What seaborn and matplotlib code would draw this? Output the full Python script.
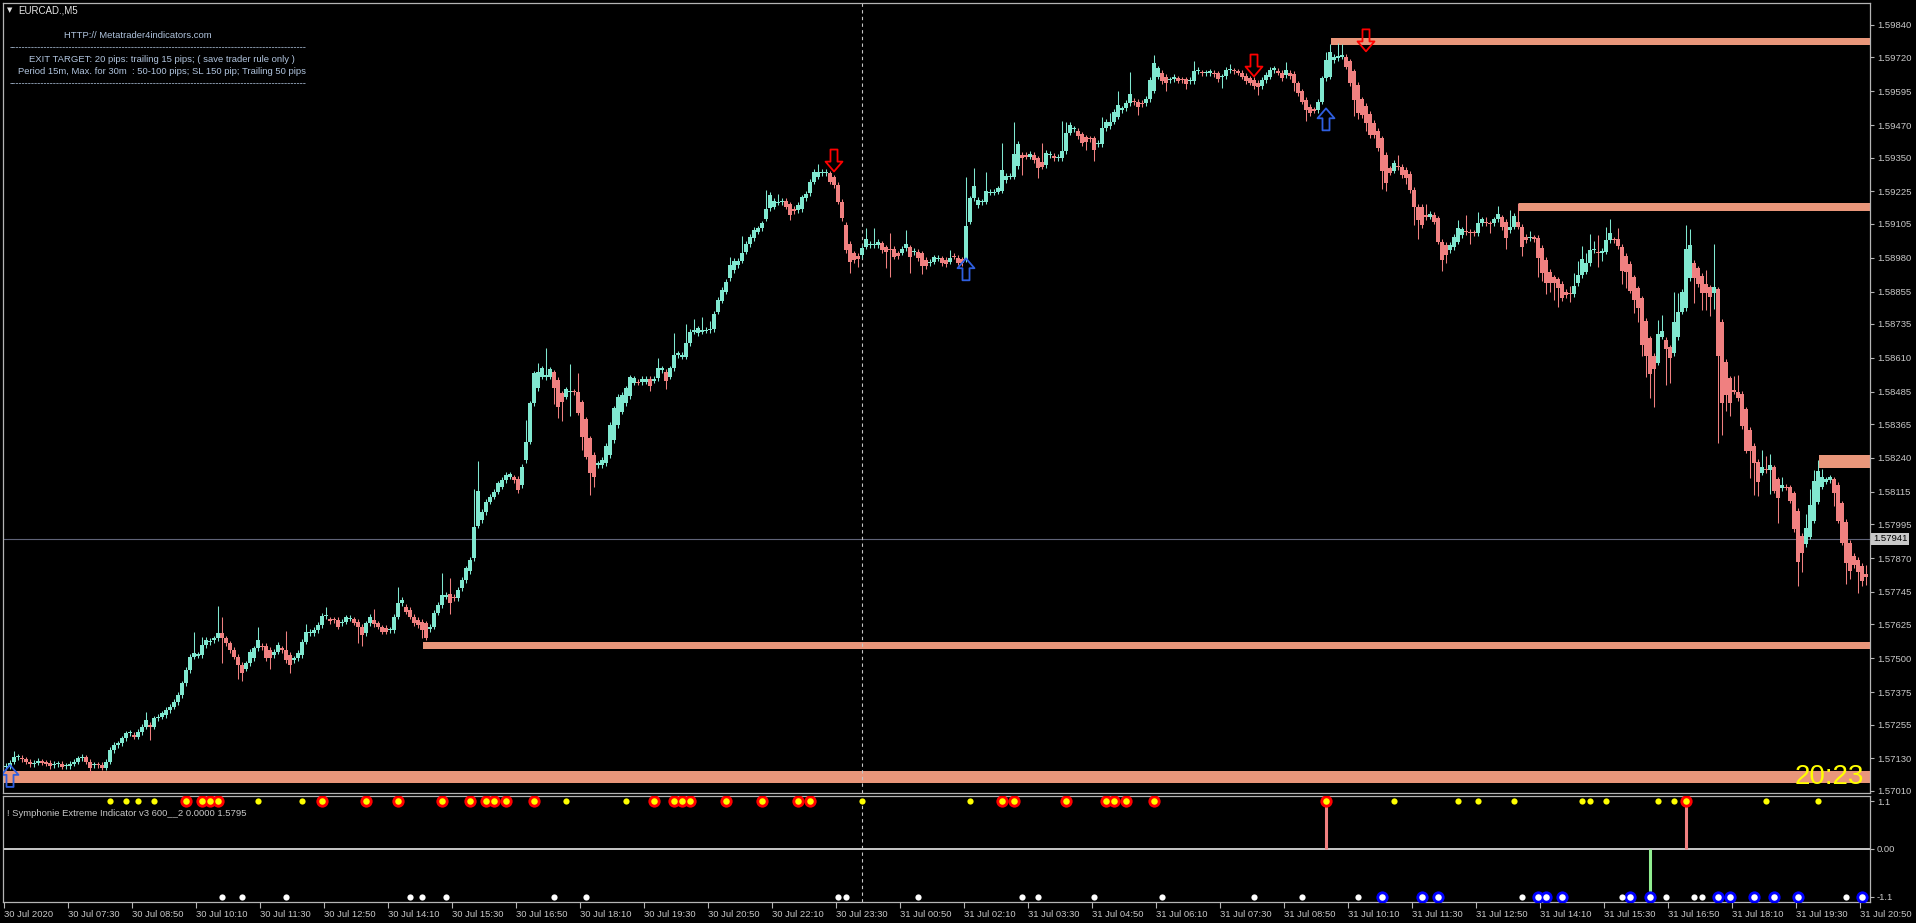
import matplotlib
matplotlib.use("Agg")
import matplotlib.pyplot as plt
import numpy as np
import pandas as pd
import seaborn as sns
from matplotlib.path import Path
from matplotlib.transforms import blended_transform_factory

# ---------------- data ----------------
symbol_title = "EURCAD.,M5"
indicator_title = "! Symphonie Extreme Indicator v3 600__2 0.0000 1.5795"
info_lines = ["HTTP:// Metatrader4indicators.com",
              "EXIT TARGET: 20 pips: trailing 15 pips; ( save trader rule only )",
              "Period 15m, Max. for 30m  : 50-100 pips; SL 150 pip; Trailing 50 pips"]
countdown = "20:23"
current_price = 1.57941

# Heiken-Ashi style candles (M5), bars 0..118
opens_1 = [1.57097, 1.57099, 1.57118, 1.57134, 1.57132, 1.57126, 1.57118, 1.57109, 1.57114, 1.57119,
           1.57115, 1.57114, 1.57104, 1.57108, 1.57109, 1.57101, 1.57102, 1.57111, 1.57118, 1.57130,
           1.57134, 1.57118, 1.57104, 1.57106, 1.57105, 1.57096, 1.57118, 1.57161, 1.57179, 1.57185,
           1.57204, 1.57222, 1.57216, 1.57210, 1.57228, 1.57247, 1.57253, 1.57247, 1.57278, 1.57284,
           1.57290, 1.57308, 1.57321, 1.57339, 1.57364, 1.57407, 1.57456, 1.57506, 1.57509, 1.57512,
           1.57549, 1.57560, 1.57567, 1.57573, 1.57592, 1.57573, 1.57555, 1.57530, 1.57506, 1.57475,
           1.57462, 1.57481, 1.57499, 1.57536, 1.57547, 1.57545, 1.57530, 1.57512, 1.57524, 1.57536,
           1.57530, 1.57512, 1.57493, 1.57499, 1.57512, 1.57561, 1.57592, 1.57592, 1.57604, 1.57623,
           1.57656, 1.57644, 1.57642, 1.57641, 1.57629, 1.57635, 1.57646, 1.57644, 1.57635, 1.57617,
           1.57592, 1.57629, 1.57641, 1.57629, 1.57614, 1.57611, 1.57603, 1.57604, 1.57654, 1.57703,
           1.57690, 1.57678, 1.57654, 1.57641, 1.57635, 1.57629, 1.57607, 1.57617, 1.57668, 1.57697,
           1.57727, 1.57736, 1.57727, 1.57721, 1.57758, 1.57789, 1.57823, 1.57870, 1.57990]
closes_1 = [1.57102, 1.57114, 1.57136, 1.57137, 1.57127, 1.57118, 1.57109, 1.57114, 1.57121, 1.57114,
            1.57111, 1.57102, 1.57109, 1.57110, 1.57099, 1.57103, 1.57111, 1.57118, 1.57130, 1.57136,
            1.57118, 1.57095, 1.57106, 1.57104, 1.57096, 1.57118, 1.57161, 1.57179, 1.57185, 1.57204,
            1.57222, 1.57225, 1.57210, 1.57228, 1.57247, 1.57271, 1.57247, 1.57278, 1.57284, 1.57296,
            1.57308, 1.57321, 1.57339, 1.57364, 1.57407, 1.57456, 1.57506, 1.57518, 1.57514, 1.57549,
            1.57567, 1.57564, 1.57573, 1.57592, 1.57573, 1.57555, 1.57530, 1.57506, 1.57475, 1.57444,
            1.57481, 1.57524, 1.57536, 1.57567, 1.57542, 1.57499, 1.57499, 1.57524, 1.57549, 1.57530,
            1.57493, 1.57475, 1.57499, 1.57520, 1.57561, 1.57598, 1.57598, 1.57604, 1.57623, 1.57656,
            1.57660, 1.57637, 1.57640, 1.57617, 1.57635, 1.57651, 1.57649, 1.57631, 1.57617, 1.57586,
            1.57629, 1.57654, 1.57626, 1.57617, 1.57598, 1.57598, 1.57605, 1.57654, 1.57703, 1.57715,
            1.57672, 1.57654, 1.57629, 1.57623, 1.57604, 1.57576, 1.57617, 1.57668, 1.57697, 1.57734,
            1.57734, 1.57703, 1.57721, 1.57752, 1.57789, 1.57832, 1.57863, 1.57986, 1.58118]

# bars 119..236
opens_2 = [1.58011, 1.58041, 1.58078, 1.58097, 1.58115, 1.58134, 1.58158, 1.58171, 1.58168, 1.58164,
           1.58140, 1.58232, 1.58300, 1.58442, 1.58497, 1.58540, 1.58538, 1.58540, 1.58556, 1.58528,
           1.58479, 1.58466, 1.58484, 1.58486, 1.58485, 1.58445, 1.58383, 1.58312, 1.58251, 1.58214,
           1.58214, 1.58222, 1.58251, 1.58306, 1.58362, 1.58411, 1.58442, 1.58469, 1.58518, 1.58521,
           1.58519, 1.58522, 1.58532, 1.58526, 1.58534, 1.58565, 1.58559, 1.58540, 1.58571, 1.58620,
           1.58614, 1.58614, 1.58663, 1.58707, 1.58700, 1.58707, 1.58710, 1.58713, 1.58715, 1.58781,
           1.58821, 1.58854, 1.58904, 1.58935, 1.58953, 1.58969, 1.59002, 1.59031, 1.59052, 1.59076,
           1.59088, 1.59124, 1.59162, 1.59169, 1.59183, 1.59185, 1.59190, 1.59177, 1.59160, 1.59156,
           1.59160, 1.59199, 1.59218, 1.59261, 1.59279, 1.59292, 1.59292, 1.59292, 1.59277, 1.59249,
           1.59187, 1.59101, 1.59031, 1.58996, 1.58986, 1.58990, 1.59021, 1.59027, 1.59027, 1.59027,
           1.59033, 1.59018, 1.59010, 1.59012, 1.58996, 1.58999, 1.59015, 1.59018, 1.59001, 1.59002,
           1.58996, 1.58972, 1.58959, 1.58965, 1.58976, 1.58978, 1.58972, 1.58965]
closes_2 = [1.58041, 1.58078, 1.58097, 1.58115, 1.58146, 1.58158, 1.58177, 1.58179, 1.58158, 1.58121,
            1.58208, 1.58300, 1.58442, 1.58553, 1.58559, 1.58571, 1.58546, 1.58567, 1.58500, 1.58429,
            1.58448, 1.58493, 1.58486, 1.58484, 1.58407, 1.58319, 1.58245, 1.58183, 1.58171, 1.58220,
            1.58232, 1.58284, 1.58362, 1.58423, 1.58467, 1.58473, 1.58497, 1.58538, 1.58534, 1.58518,
            1.58532, 1.58532, 1.58506, 1.58532, 1.58571, 1.58571, 1.58526, 1.58571, 1.58620, 1.58626,
            1.58620, 1.58666, 1.58707, 1.58713, 1.58719, 1.58710, 1.58713, 1.58715, 1.58772, 1.58824,
            1.58861, 1.58891, 1.58953, 1.58968, 1.58968, 1.58999, 1.59031, 1.59058, 1.59082, 1.59088,
            1.59107, 1.59160, 1.59212, 1.59191, 1.59187, 1.59190, 1.59169, 1.59138, 1.59153, 1.59175,
            1.59203, 1.59215, 1.59261, 1.59296, 1.59296, 1.59296, 1.59296, 1.59261, 1.59249, 1.59187,
            1.59125, 1.59008, 1.58965, 1.58972, 1.58976, 1.59015, 1.59048, 1.59031, 1.59031, 1.59039,
            1.59008, 1.59002, 1.59007, 1.58984, 1.58986, 1.59013, 1.59031, 1.58984, 1.59004, 1.58978,
            1.58949, 1.58949, 1.58965, 1.58981, 1.58979, 1.58959, 1.58957, 1.58978]

# bars 237..352
opens_3 = [1.58986, 1.58980, 1.58974, 1.58974, 1.59113, 1.59199, 1.59175, 1.59185, 1.59187, 1.59220,
           1.59220, 1.59224, 1.59228, 1.59267, 1.59279, 1.59279, 1.59319, 1.59360, 1.59360, 1.59353,
           1.59360, 1.59347, 1.59335, 1.59323, 1.59360, 1.59356, 1.59347, 1.59347, 1.59374, 1.59442,
           1.59454, 1.59448, 1.59436, 1.59425, 1.59421, 1.59421, 1.59400, 1.59400, 1.59458, 1.59467,
           1.59483, 1.59501, 1.59526, 1.59532, 1.59551, 1.59560, 1.59557, 1.59551, 1.59551, 1.59567,
           1.59597, 1.59649, 1.59664, 1.59649, 1.59637, 1.59639, 1.59643, 1.59638, 1.59639, 1.59633,
           1.59631, 1.59668, 1.59664, 1.59663, 1.59661, 1.59664, 1.59661, 1.59648, 1.59652, 1.59674,
           1.59670, 1.59668, 1.59664, 1.59652, 1.59643, 1.59637, 1.59627, 1.59615, 1.59637, 1.59649,
           1.59674, 1.59671, 1.59664, 1.59655, 1.59664, 1.59658, 1.59624, 1.59594, 1.59563, 1.59536,
           1.59528, 1.59526, 1.59557, 1.59643, 1.59649, 1.59711, 1.59717, 1.59723, 1.59723, 1.59705,
           1.59668, 1.59618, 1.59565, 1.59541, 1.59511, 1.59477, 1.59448, 1.59421, 1.59360, 1.59310,
           1.59302, 1.59319, 1.59316, 1.59304, 1.59289, 1.59230]
closes_3 = [1.58984, 1.58962, 1.58959, 1.59097, 1.59199, 1.59243, 1.59193, 1.59187, 1.59228, 1.59224,
            1.59224, 1.59236, 1.59304, 1.59282, 1.59282, 1.59362, 1.59400, 1.59347, 1.59353, 1.59363,
            1.59341, 1.59313, 1.59316, 1.59366, 1.59363, 1.59347, 1.59353, 1.59374, 1.59442, 1.59470,
            1.59458, 1.59430, 1.59403, 1.59409, 1.59419, 1.59376, 1.59403, 1.59458, 1.59483, 1.59483,
            1.59520, 1.59544, 1.59532, 1.59551, 1.59585, 1.59554, 1.59538, 1.59548, 1.59567, 1.59637,
            1.59698, 1.59680, 1.59631, 1.59624, 1.59639, 1.59647, 1.59634, 1.59636, 1.59622, 1.59636,
            1.59668, 1.59674, 1.59661, 1.59665, 1.59668, 1.59659, 1.59639, 1.59650, 1.59674, 1.59676,
            1.59668, 1.59664, 1.59649, 1.59631, 1.59627, 1.59615, 1.59610, 1.59637, 1.59655, 1.59674,
            1.59680, 1.59664, 1.59643, 1.59674, 1.59652, 1.59624, 1.59587, 1.59557, 1.59526, 1.59514,
            1.59523, 1.59557, 1.59643, 1.59711, 1.59741, 1.59723, 1.59725, 1.59729, 1.59686, 1.59624,
            1.59563, 1.59514, 1.59507, 1.59477, 1.59433, 1.59433, 1.59384, 1.59302, 1.59257, 1.59294,
            1.59331, 1.59314, 1.59286, 1.59273, 1.59230, 1.59169]

# bars 353..465
opens_4 = [1.59169, 1.59169, 1.59138, 1.59132, 1.59138, 1.59125, 1.59039, 1.59027, 1.59008, 1.59018,
           1.59039, 1.59064, 1.59076, 1.59076, 1.59073, 1.59070, 1.59107, 1.59111, 1.59106, 1.59107,
           1.59122, 1.59129, 1.59113, 1.59082, 1.59095, 1.59111, 1.59095, 1.59058, 1.59052, 1.59055,
           1.59052, 1.59015, 1.58972, 1.58928, 1.58907, 1.58900, 1.58882, 1.58854, 1.58847, 1.58846,
           1.58885, 1.58916, 1.58928, 1.58959, 1.59008, 1.59002, 1.58996, 1.59002, 1.59045, 1.59048,
           1.59048, 1.59021, 1.58986, 1.58957, 1.58907, 1.58867, 1.58830, 1.58746, 1.58682, 1.58617,
           1.58592, 1.58688, 1.58676, 1.58649, 1.58627, 1.58686, 1.58781, 1.58793, 1.58904, 1.58962,
           1.58941, 1.58912, 1.58883, 1.58870, 1.58851, 1.58863, 1.58744, 1.58596, 1.58534, 1.58491,
           1.58485, 1.58476, 1.58420, 1.58343, 1.58284, 1.58226, 1.58186, 1.58197, 1.58195, 1.58205,
           1.58161, 1.58128, 1.58132, 1.58131, 1.58109, 1.58044, 1.57951, 1.57921, 1.57949, 1.58008,
           1.58078, 1.58134, 1.58152, 1.58158, 1.58161, 1.58140, 1.58072, 1.58004, 1.57927, 1.57878,
           1.57863, 1.57841, 1.57813]
closes_4 = [1.59119, 1.59101, 1.59129, 1.59142, 1.59113, 1.59039, 1.58972, 1.58990, 1.59027, 1.59058,
            1.59089, 1.59085, 1.59074, 1.59070, 1.59071, 1.59107, 1.59122, 1.59108, 1.59103, 1.59122,
            1.59142, 1.59092, 1.59052, 1.59095, 1.59134, 1.59095, 1.59018, 1.59045, 1.59058, 1.59048,
            1.58978, 1.58922, 1.58885, 1.58885, 1.58885, 1.58867, 1.58830, 1.58842, 1.58845, 1.58875,
            1.58916, 1.58974, 1.58959, 1.59008, 1.59011, 1.58996, 1.59005, 1.59045, 1.59073, 1.59045,
            1.59023, 1.58932, 1.58928, 1.58858, 1.58824, 1.58793, 1.58657, 1.58618, 1.58550, 1.58567,
            1.58698, 1.58710, 1.58641, 1.58608, 1.58744, 1.58781, 1.58854, 1.59011, 1.59027, 1.58904,
            1.58883, 1.58848, 1.58848, 1.58836, 1.58870, 1.58617, 1.58444, 1.58473, 1.58444, 1.58485,
            1.58460, 1.58358, 1.58267, 1.58267, 1.58222, 1.58150, 1.58208, 1.58194, 1.58214, 1.58119,
            1.58091, 1.58140, 1.58130, 1.58082, 1.57976, 1.57857, 1.57887, 1.57983, 1.58066, 1.58155,
            1.58193, 1.58168, 1.58161, 1.58168, 1.58112, 1.58008, 1.57927, 1.57853, 1.57823, 1.57844,
            1.57820, 1.57786, 1.57801]

# wick lengths beyond the body, in pips
wick_up_pips = [1,1,2,1,1,1,1,1,1,1,1,1,1,1,1,1,1,1,1,1,
                1,1,1,1,1,1,1,1,1,1,1,1,1,1,1,3,1,1,1,1,
                1,1,1,1,1,1,1,8,1,3,1,1,1,10,6,1,1,1,1,1,
                1,1,1,5,1,1,1,1,1,1,7,1,1,1,1,3,1,1,1,1,
                3,1,1,1,1,1,1,1,1,1,1,1,4,1,1,1,1,1,6,1,
                1,1,1,1,1,1,1,1,1,8,1,6,1,1,1,1,1,14,11,1,
                1,1,1,1,1,1,1,1,1,1,8,1,1,3,1,10,1,1,1,1,
                1,10,1,7,1,1,1,1,1,1,1,1,1,1,1,1,1,1,1,1,
                1,1,1,4,1,1,1,8,1,1,7,1,4,1,5,1,3,1,1,1,
                1,3,1,1,6,1,1,1,1,1,7,1,1,3,1,1,1,1,1,1,
                1,1,1,3,1,1,1,1,1,1,1,1,1,1,1,4,1,6,1,1,
                1,6,1,1,1,5,1,1,1,1,1,1,1,1,1,1,3,1,1,1,
                18,1,7,1,1,7,1,1,1,10,1,1,12,1,1,1,1,1,1,7,
                1,1,1,1,11,4,1,1,1,1,1,1,1,1,4,1,3,1,5,1,
                1,8,1,1,1,1,1,3,1,1,1,1,1,1,1,1,1,4,1,1,
                1,1,1,1,1,1,2,1,1,1,1,1,1,1,1,1,1,1,1,1,
                3,1,1,1,1,1,1,1,1,1,3,3,1,5,4,1,1,1,1,1,
                1,1,1,1,1,1,1,1,4,1,1,1,1,1,1,4,1,1,1,1,
                1,1,1,3,1,6,1,1,4,1,2,1,1,3,1,1,6,1,7,1,
                1,2,1,1,1,1,1,1,1,1,1,3,5,5,5,4,6,3,6,1,
                5,5,1,4,1,1,1,1,1,1,1,1,1,5,6,1,1,11,7,1,
                9,6,1,1,1,5,1,16,1,1,1,1,5,6,1,1,1,1,1,6,
                5,4,1,1,3,1,1,1,1,1,5,6,4,4,3,1,1,1,1,1,
                1,1,1,1,1,3]
wick_dn_pips = [1,1,1,1,1,1,1,1,1,1,1,1,1,1,1,1,1,1,1,1,
                1,2,1,1,1,1,1,1,1,1,1,1,1,1,1,1,5,1,1,1,
                1,1,1,1,1,1,1,1,1,1,1,1,1,1,9,1,1,1,5,3,
                1,1,1,1,1,1,4,1,1,1,1,3,1,1,1,1,1,1,1,1,
                1,1,1,1,1,1,1,1,6,4,1,1,1,1,1,1,1,1,1,1,
                1,1,1,1,3,1,1,1,1,1,1,4,1,1,1,1,1,1,1,1,
                1,1,1,1,1,1,1,1,1,1,1,1,1,1,1,1,1,6,4,7,
                1,9,1,1,5,1,8,4,1,1,1,1,1,1,1,1,1,1,1,1,
                1,2,1,1,1,3,1,1,1,1,1,1,1,1,1,1,1,1,1,1,
                1,1,1,1,1,1,1,1,1,1,1,1,1,1,1,1,2,1,1,1,
                1,1,1,1,1,1,1,1,1,1,1,4,1,3,1,1,1,1,1,1,
                6,10,1,1,1,1,6,1,1,3,1,1,1,1,1,1,1,1,1,1,
                1,1,1,1,1,1,1,1,1,1,1,1,1,1,6,1,1,1,4,1,
                1,1,1,1,1,1,1,1,1,1,3,1,4,1,1,1,1,1,1,1,
                1,1,1,3,1,1,1,1,1,1,3,1,1,1,1,2,1,1,1,1,
                1,1,1,1,4,1,1,1,1,1,1,1,1,3,1,1,1,1,1,1,
                1,1,3,1,1,4,1,1,1,1,1,1,1,1,1,1,1,6,2,1,
                3,1,1,1,7,3,1,1,1,1,2,1,7,7,1,1,1,1,1,4,
                3,1,1,1,1,1,4,1,1,1,1,3,1,1,1,4,1,1,1,3,
                1,1,1,7,3,4,3,6,7,1,1,3,1,1,1,1,1,1,5,3,
                1,1,1,1,5,6,1,5,5,4,8,9,14,1,1,13,9,1,1,1,
                1,1,9,1,6,6,7,6,32,12,6,5,1,1,1,1,10,12,5,1,
                1,9,1,9,1,1,1,1,9,7,1,1,1,1,1,1,1,5,1,1,
                8,3,1,8,2,3]

# support / resistance zones
zone_start_bars = [0, 105, 332, 379, 454]
zone_low = [1.57040, 1.57533, 1.59764, 1.59154, 1.58204]
zone_high = [1.57084, 1.57560, 1.59791, 1.59181, 1.58250]

# signal arrows
up_arrow_bars = [1, 240, 330]
up_arrow_prices = [1.57065, 1.58937, 1.59491]
down_arrow_bars = [207, 312, 340]
down_arrow_prices = [1.59339, 1.59690, 1.59783]

separator_bar = 214

# axis labels
price_ticks = [1.59840, 1.59720, 1.59595, 1.59470, 1.59350, 1.59225, 1.59105, 1.58980,
               1.58855, 1.58735, 1.58610, 1.58485, 1.58365, 1.58240, 1.58115, 1.57995,
               1.57870, 1.57745, 1.57625, 1.57500, 1.57375, 1.57255, 1.57130, 1.57010]
time_label_bars = [0, 16, 32, 48, 64, 80, 96, 112, 128, 144, 160, 176, 192, 208, 224,
                   240, 256, 272, 288, 304, 320, 336, 352, 368, 384, 400, 416, 432, 448, 464]
time_labels = ["30 Jul 2020", "30 Jul 07:30", "30 Jul 08:50", "30 Jul 10:10", "30 Jul 11:30",
               "30 Jul 12:50", "30 Jul 14:10", "30 Jul 15:30", "30 Jul 16:50", "30 Jul 18:10",
               "30 Jul 19:30", "30 Jul 20:50", "30 Jul 22:10", "30 Jul 23:30", "31 Jul 00:50",
               "31 Jul 02:10", "31 Jul 03:30", "31 Jul 04:50", "31 Jul 06:10", "31 Jul 07:30",
               "31 Jul 08:50", "31 Jul 10:10", "31 Jul 11:30", "31 Jul 12:50", "31 Jul 14:10",
               "31 Jul 15:30", "31 Jul 16:50", "31 Jul 18:10", "31 Jul 19:30", "31 Jul 20:50"]

# indicator sub-window
ind_yellow_bars = [26, 30, 33, 37, 63, 74, 140, 155, 214, 241, 347, 363, 368, 377, 394, 396,
                   400, 413, 417, 440, 453]
ind_red_bars = [45, 49, 51, 53, 79, 90, 98, 109, 116, 120, 122, 125, 132, 162, 167, 169, 171,
                180, 189, 198, 201, 249, 252, 265, 275, 277, 280, 287, 330, 420]
ind_white_bars = [54, 59, 70, 101, 104, 110, 137, 145, 208, 210, 228, 254, 258, 272, 289, 312,
                  324, 338, 379, 404, 415, 422, 424, 460]
ind_blue_bars = [344, 354, 358, 383, 385, 389, 406, 411, 428, 431, 437, 442, 448, 464]
ind_sell_stem_bars = [330, 420]
ind_buy_stem_bars = [411]
ind_upper_level = 1.1
ind_lower_level = -1.1
ind_ticks = [1.1, 0.0, -1.1]
ind_tick_labels = ["1.1", "0.00", "-1.1"]

# ---------------- style ----------------
BG = "black"
FRAME = "#B4B4B4"
LABEL = "#C8C8C8"
BULL = "#80E8D0"
BEAR = "#F08080"
ZONE = "#E9967A"
INFO = "#B0C4DE"

sns.set_theme(style="dark", rc={
    "axes.facecolor": BG, "figure.facecolor": BG, "savefig.facecolor": BG,
    "axes.edgecolor": FRAME, "axes.grid": False, "text.color": LABEL,
    "xtick.color": FRAME, "ytick.color": FRAME,
    "xtick.labelcolor": LABEL, "ytick.labelcolor": LABEL,
})
plt.rcParams["font.family"] = ["Liberation Sans", "DejaVu Sans"]

W, H = 1916, 923
fig = plt.figure(figsize=(W / 100, H / 100), dpi=100)

left, right = 3, 1870
ax = fig.add_axes([left / W, 1 - 793 / H, (right - left) / W, (793 - 3) / H])
axi = fig.add_axes([left / W, 1 - 902 / H, (right - left) / W, (902 - 796) / H], sharex=ax)

for a in (ax, axi):
    a.set_facecolor(BG)
    for s in a.spines.values():
        s.set_color(FRAME)
        s.set_linewidth(0.9)
        s.set_visible(True)

# ---------------- candles ----------------
opens = np.array(opens_1 + opens_2 + opens_3 + opens_4)
closes = np.array(closes_1 + closes_2 + closes_3 + closes_4)
pip = 0.0001
bars = np.arange(len(opens))
highs = np.maximum(opens, closes) + np.array(wick_up_pips) * pip
lows = np.minimum(opens, closes) - np.array(wick_dn_pips) * pip
colors = np.where(closes >= opens, BULL, BEAR)

x0, x1 = -0.75, 466.0
ax.set_xlim(x0, x1)
ax.set_ylim(1.57002, 1.59921)

# zones (behind candles)
for sb, lo, hi in zip(zone_start_bars, zone_low, zone_high):
    ax.fill_between([sb - 0.75, x1], lo, hi, color=ZONE, linewidth=0, zorder=1)

ax.axhline(current_price, color="#5F6378", lw=0.8, zorder=1.5)
ax.axvline(separator_bar, color=LABEL, lw=0.8, ls=(0, (3, 3)), zorder=1.5)

ax.vlines(bars, lows, highs, colors=colors, lw=0.75, zorder=2)
body_lo = np.minimum(opens, closes)
body_h = np.maximum(np.abs(closes - opens), 0.00004)
ax.bar(bars, body_h, bottom=body_lo, width=0.8, color=colors, linewidth=0, zorder=3,
       antialiased=False)

# arrows
up_path = Path([(0, 0.5), (0.385, 0.05), (0.16, 0.05), (0.16, -0.5), (-0.16, -0.5),
                (-0.16, 0.05), (-0.385, 0.05), (0, 0.5)],
               [Path.MOVETO] + [Path.LINETO] * 6 + [Path.CLOSEPOLY])
down_path = Path([(x, -y) for x, y in up_path.vertices], up_path.codes)
ax.scatter(up_arrow_bars, up_arrow_prices, marker=up_path, s=250, facecolors="none",
           edgecolors="#2F5FE0", linewidths=1.3, zorder=6)
ax.scatter(down_arrow_bars, down_arrow_prices, marker=down_path, s=250, facecolors="none",
           edgecolors="#FF0000", linewidths=1.3, zorder=6)

# right price axis
ax.yaxis.tick_right()
ax.set_yticks(price_ticks)
ax.set_yticklabels([f"{v:.5f}" for v in price_ticks])
ax.tick_params(axis="y", right=True, left=False, length=3, width=0.8, pad=2,
               labelsize=6.8, colors=FRAME, labelcolor=LABEL)
ax.tick_params(axis="x", bottom=False, labelbottom=False)

# current price label
tr = blended_transform_factory(ax.transAxes, ax.transData)
ax.text(1.0 + 3 / (right - left), current_price, f"{current_price:.5f}", transform=tr,
        ha="left", va="center", fontsize=6.8, color="black", clip_on=False, zorder=10,
        bbox=dict(boxstyle="square,pad=0.18", fc="#C8C8C8", ec="none"))

# countdown
ax.text(0.9968, 0.0114, countdown, transform=ax.transAxes, ha="right", va="baseline",
        fontsize=20, color="#FFFF00", zorder=8)

# ---------------- indicator window ----------------
axi.set_ylim(-1.215, 1.215)
axi.axhline(0, color="white", lw=1.1, zorder=1)
axi.axvline(separator_bar, color=LABEL, lw=0.8, ls=(0, (3, 3)), zorder=1)
axi.vlines(ind_sell_stem_bars, 0, ind_upper_level, colors=BEAR, lw=2.2, zorder=2)
axi.vlines(ind_buy_stem_bars, 0, ind_lower_level, colors="#90EE90", lw=2.2, zorder=2)

top_small = pd.DataFrame({"bar": ind_yellow_bars, "val": [ind_upper_level] * len(ind_yellow_bars)})
top_big = pd.DataFrame({"bar": ind_red_bars, "val": [ind_upper_level] * len(ind_red_bars)})
bot_small = pd.DataFrame({"bar": ind_white_bars, "val": [ind_lower_level] * len(ind_white_bars)})
bot_big = pd.DataFrame({"bar": ind_blue_bars, "val": [ind_lower_level] * len(ind_blue_bars)})

sns.scatterplot(data=top_big, x="bar", y="val", ax=axi, color="#FF0000", s=78, linewidth=0,
                legend=False, zorder=3)
sns.scatterplot(data=top_big, x="bar", y="val", ax=axi, color="#FFFF00", s=22, linewidth=0,
                legend=False, zorder=4)
sns.scatterplot(data=top_small, x="bar", y="val", ax=axi, color="#FFFF00", s=20, linewidth=0,
                legend=False, zorder=4)
sns.scatterplot(data=bot_big, x="bar", y="val", ax=axi, color="#0000FF", s=78, linewidth=0,
                legend=False, zorder=3)
sns.scatterplot(data=bot_big, x="bar", y="val", ax=axi, color="white", s=22, linewidth=0,
                legend=False, zorder=4)
sns.scatterplot(data=bot_small, x="bar", y="val", ax=axi, color="white", s=20, linewidth=0,
                legend=False, zorder=4)
axi.set_xlabel("")
axi.set_ylabel("")

axi.yaxis.tick_right()
axi.set_yticks(ind_ticks)
axi.set_yticklabels(ind_tick_labels)
axi.tick_params(axis="y", right=True, left=False, length=3, width=0.8, pad=2,
                labelsize=6.8, colors=FRAME, labelcolor=LABEL)
axi.set_xticks([b - 0.6 for b in time_label_bars])
axi.set_xticklabels(time_labels)
for lbl in axi.get_xticklabels():
    lbl.set_horizontalalignment("left")
axi.tick_params(axis="x", bottom=True, length=4, width=0.8, pad=2, labelsize=6.8,
                colors=FRAME, labelcolor=LABEL)
ax.set_xlim(x0, x1)

# ---------------- texts ----------------
def fx(px):
    return px / W

def fy(py):
    return 1 - py / H

fig.text(fx(9.5), fy(10.5), "\u25BC", ha="center", va="center", fontsize=5,
         color="#E6E6E6", family=["DejaVu Sans"])
fig.text(fx(18), fy(10.5), symbol_title, ha="left", va="center", fontsize=7, color="#E6E6E6")
fig.text(fx(64), fy(35), info_lines[0], ha="left", va="center", fontsize=6.8, color=INFO)
fig.text(fx(10), fy(48), "-" * 95, ha="left", va="center", fontsize=6.8, color=INFO)
fig.text(fx(161.7), fy(60), info_lines[1], ha="center", va="center", fontsize=6.8, color=INFO)
fig.text(fx(161.7), fy(72), info_lines[2], ha="center", va="center", fontsize=6.8, color=INFO)
fig.text(fx(10), fy(84), "-" * 95, ha="left", va="center", fontsize=6.8, color=INFO)
fig.text(fx(7), fy(813), indicator_title, ha="left", va="center", fontsize=6.8, color=LABEL)

fig.savefig("out.png", dpi=100, facecolor=BG)
